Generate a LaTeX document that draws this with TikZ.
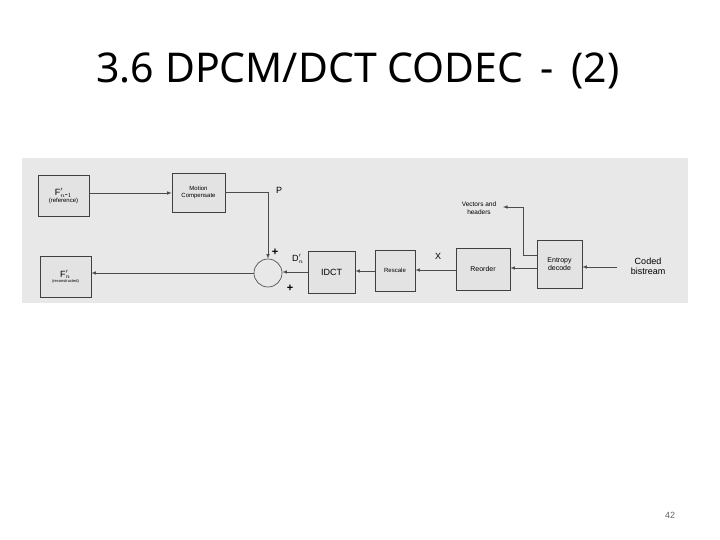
\documentclass[tikz,border=0pt]{standalone}
\usepackage{fontspec}
\setmainfont{Liberation Sans}
\newfontfamily\titlefont{Noto Sans}
\begin{document}
\begin{tikzpicture}[x=1pt,y=-1pt,
  blk/.style={draw=black!75,fill=black!11,line width=0.6pt,inner sep=0pt,align=center,font=\fontsize{6}{7}\selectfont},
  con/.style={draw=black!70,line width=0.6pt,-latex},
  lab/.style={font=\fontsize{9}{10}\selectfont,align=center}]
\useasboundingbox (0,0) rectangle (720,540);
\node[font=\titlefont\fontsize{41}{44}\selectfont] (title) at (358,71) {3.6 DPCM/DCT CODEC\, -\, (2)};
\fill[black!9] (22,158) rectangle (688,303);
\node[blk,minimum width=51,minimum height=41] (fprev) at (63.5,196) {\fontsize{9}{10}\selectfont F$'_{n\mbox{-}1}$\\(reference)};
\node[blk,minimum width=53,minimum height=39] (mc) at (198.5,192.5) {Motion\\Compensate};
\node[blk,minimum width=51,minimum height=41] (fn) at (65.5,276.5) {\fontsize{9}{10}\selectfont F$'_n$\\[-2pt]{\fontsize{4}{5}\selectfont (reconstructed)}};
\node[draw=black!75,circle,minimum size=28,inner sep=0pt,line width=0.6pt] (sum) at (268,273) {};
\node[blk,minimum width=47,minimum height=42,font=\fontsize{9}{10}\selectfont] (idct) at (331.5,272) {IDCT};
\node[blk,minimum width=40,minimum height=41] (resc) at (395,270.5) {Rescale};
\node[blk,minimum width=54,minimum height=42,font=\fontsize{7}{8}\selectfont] (reord) at (483,269) {Reorder};
\node[blk,minimum width=45,minimum height=48,font=\fontsize{7}{8}\selectfont] (ent) at (559.5,264) {Entropy\\decode};
\node[lab] (cb) at (648,266) {Coded\\bistream};
\node[font=\fontsize{6.5}{7.5}\selectfont,align=center] (vh) at (479,208) {Vectors and\\headers};
\node[lab] (p) at (279,190) {P};
\node[lab] (x) at (438,256) {X};
\node[lab] (d) at (298,259) {D$'_n$};
\node[font=\bfseries\fontsize{11}{12}\selectfont] (p1) at (275,252) {+};
\node[font=\bfseries\fontsize{11}{12}\selectfont] (p2) at (290,288) {+};
\coordinate (vt) at (503,207);
\draw[con] (fprev.east |- 0,193) -- (mc.west |- 0,193);
\draw[con] (mc.east |- 0,192) -| (sum.north);
\draw[con] (sum.west) -- (fn.east |- sum.west);
\draw[con] (idct.west |- 0,272) -- (sum.east |- 0,272);
\draw[con] (resc.west |- 0,271) -- (idct.east |- 0,271);
\draw[con] (reord.west |- 0,270) -- (resc.east |- 0,270);
\draw[con] (ent.west |- 0,268) -- (reord.east |- 0,268);
\draw[con] (617,267) -- (ent.east |- 0,267);
\draw[con] (ent.west |- 0,255) -| (523,207) -- (vt);
\node[font=\fontsize{9}{10}\selectfont,text=black!60] (pg) at (670,515) {42};
\end{tikzpicture}
\end{document}
